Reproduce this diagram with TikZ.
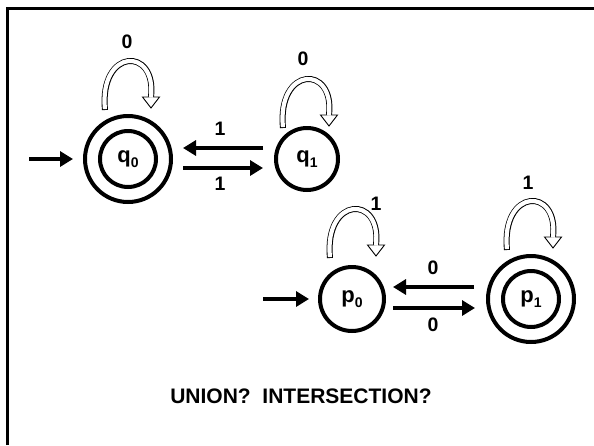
\documentclass[tikz,border=0pt]{standalone}
\usepackage{fontspec}
\setmainfont{Liberation Sans}
\usetikzlibrary{arrows.meta,calc}
\newcommand\hollowloop[1]{%
  \begin{scope}[shift={#1}]
    \draw[line width=6pt] (0,0) .. controls (-6,-62) and (52,-64) .. (46,-13);
    \draw[line width=0.9pt,fill=white] (37.5,-13) -- (54.5,-13) -- (46,-2) -- cycle;
    \draw[line width=4.2pt,white,shorten <=0.9pt,shorten >=-0.6pt] (0,0) .. controls (-6,-62) and (52,-64) .. (46,-13);
  \end{scope}}
\begin{document}
\begin{tikzpicture}[x=1pt,y=-1pt,
  state/.style={circle,draw,line width=4pt,inner sep=0pt,font=\bfseries\fontsize{22}{22}\selectfont},
  arr/.style={line width=4.5pt,-{Triangle[length=13pt,width=15pt]}},
  lbl/.style={font=\bfseries\fontsize{19.5}{19.5}\selectfont,inner sep=0pt},
]
\useasboundingbox (0,0) rectangle (594,445);
\draw[line width=3pt] (7.5,445) -- (7.5,8.5) -- (594,8.5);

% states
\node[state,minimum size=86pt] (q0) at (128,159) {q\raisebox{-5pt}{\fontsize{14}{14}\selectfont 0}};
\draw[line width=4pt] (q0.center) circle (28);
\node[state,minimum size=62pt] (q1) at (307,159) {q\raisebox{-5pt}{\fontsize{14}{14}\selectfont 1}};
\node[state,minimum size=64pt] (p0) at (352,299) {p\raisebox{-5pt}{\fontsize{14}{14}\selectfont 0}};
\node[state,minimum size=86pt] (p1) at (531,299) {p\raisebox{-5pt}{\fontsize{14}{14}\selectfont 1}};
\draw[line width=4pt] (p1.center) circle (28);

% initial arrows
\coordinate (q0in) at (29,159);
\coordinate (p0in) at (263,299);
\draw[arr,shorten >=10pt] (q0in) -- (q0);
\draw[arr,shorten >=9pt] (p0in) -- (p0);

% transitions between states
\draw[arr,shorten <=11pt,shorten >=10pt] ([yshift=11pt]q1.west) -- ([yshift=11pt]q0.east);
\draw[arr,shorten <=10pt,shorten >=11pt] ([yshift=-9pt]q0.east) -- ([yshift=-9pt]q1.west);
\draw[arr,shorten <=12pt,shorten >=7pt] ([yshift=12pt]p1.west) -- ([yshift=12pt]p0.east);
\draw[arr,shorten <=7pt,shorten >=11pt] ([yshift=-9pt]p0.east) -- ([yshift=-9pt]p1.west);

\node[lbl] (lq10) at (220,129) {1};
\node[lbl] (lq01) at (220,184) {1};
\node[lbl] (lp10) at (433,268) {0};
\node[lbl] (lp01) at (433,325) {0};

% self loops
\hollowloop{($(q0.center)+(-23,-49)$)}
\hollowloop{($(q1.center)+(-24,-31)$)}
\hollowloop{($(p0.center)+(-22,-41)$)}
\hollowloop{($(p1.center)+(-24,-49)$)}
\node[lbl] (lq0) at (127,42) {0};
\node[lbl] (lq1) at (303,59) {0};
\node[lbl] (lp0) at (376,204) {1};
\node[lbl] (lp1) at (528,183) {1};

\node[font=\bfseries\fontsize{21}{21}\selectfont,inner sep=0pt] (question) at (301,396) {UNION?\ \ INTERSECTION?};
\end{tikzpicture}
\end{document}
